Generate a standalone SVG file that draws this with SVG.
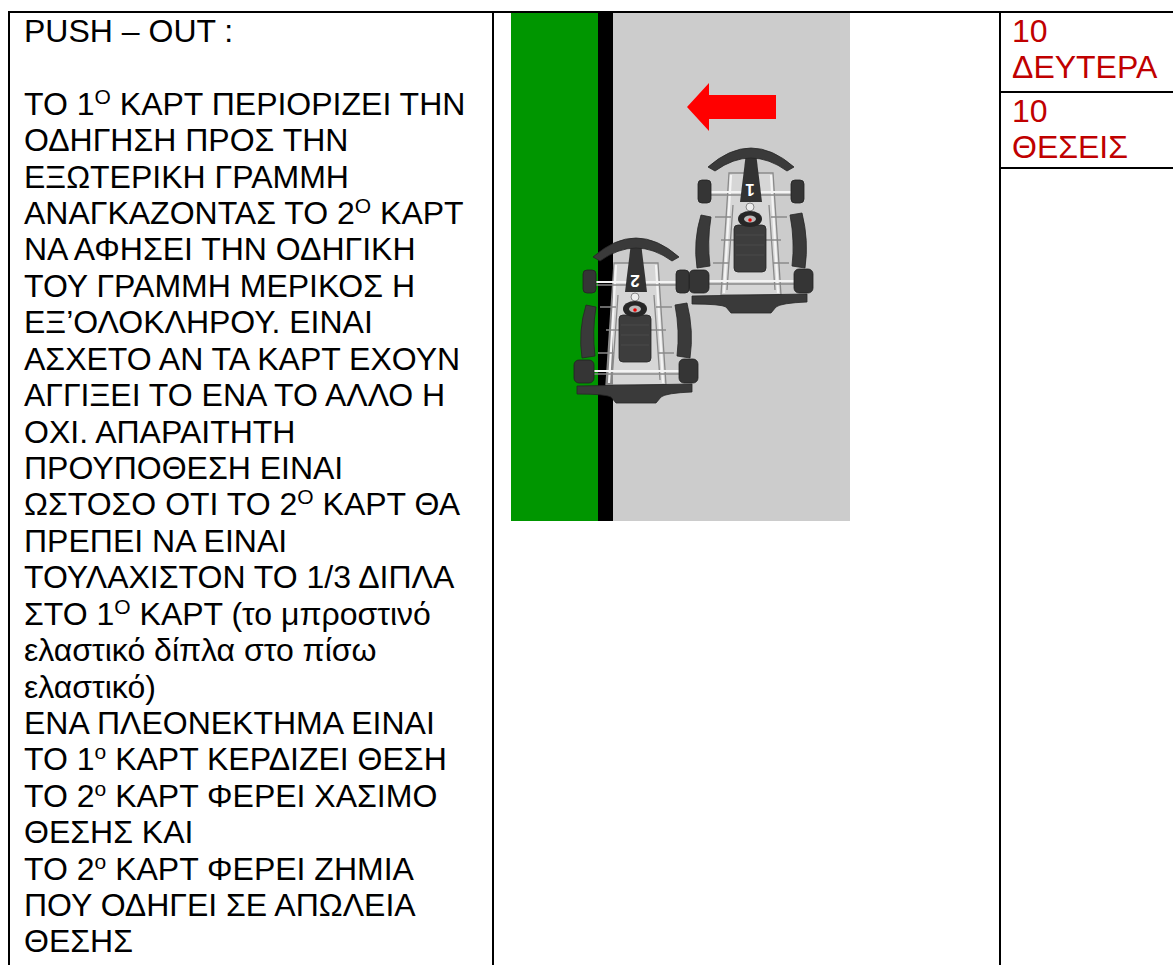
<svg xmlns="http://www.w3.org/2000/svg" width="1173" height="965" viewBox="0 0 1173 965">
<style>
.t{font-family:"Liberation Sans",Arial,"DejaVu Sans",sans-serif;font-size:32px;fill:#000}
.r{fill:#C00000}
.sup{font-size:21px}
.grid{stroke:#000;stroke-width:2;fill:none}
.tyre{fill:#353535;stroke:#222;stroke-width:0.8}
.pod{fill:#3a3a3a;stroke:#262626;stroke-width:0.8}
.frame{fill:none;stroke:#8a8a8a;stroke-width:1.3}
.tube{fill:none;stroke:#f4f4f4;stroke-width:2.2}
.num{font-family:"Liberation Sans",Arial,sans-serif;font-size:17px;font-weight:bold;fill:#fff}
</style>
<defs>
<g id="kart">
  <path d="M -22 28 L 22 28 L 30 150 L -30 150 Z" fill="#dcdcdc" fill-opacity="0.6" stroke="#8a8a8a" stroke-width="1.3"/>
  <path class="tube" d="M -20 30 L -27 148 M 20 30 L 27 148"/>
  <path class="frame" d="M -18 60 L -24 145 M 18 60 L 24 145 M -30 95 L 30 95"/>
  <line class="tube" x1="-40" y1="47" x2="40" y2="47"/>
  <line class="frame" x1="-40" y1="50" x2="40" y2="50"/>
  <line class="tube" x1="-42" y1="136" x2="44" y2="136"/>
  <line class="frame" x1="-42" y1="139" x2="44" y2="139"/>
  <path class="frame" d="M -36 72 L -20 72 M 20 72 L 36 72 M -38 118 L -22 118 M 22 118 L 38 118"/>
  <rect class="tyre" x="-53" y="35" width="13" height="23" rx="4"/>
  <rect class="tyre" x="40" y="35" width="13" height="23" rx="4"/>
  <rect class="tyre" x="-62" y="125" width="20" height="23" rx="5"/>
  <rect class="tyre" x="43" y="124" width="19" height="24" rx="5"/>
  <path class="pod" d="M -50 70 Q -58 96 -54 123 L -41 121 Q -44 96 -40 72 Z"/>
  <path class="pod" d="M 39 70 Q 44 96 41 121 L 54 123 Q 58 96 51 68 Z"/>
  <rect x="-17" y="80" width="32" height="47" rx="4" fill="#3d3d3d" stroke="#262626" stroke-width="0.8"/>
  <path d="M -15 90 L 13 90 M -15 100 L 13 100 M -15 110 L 13 110" stroke="#4a4a4a" stroke-width="1"/>
  <path d="M -5 8 L 5 8 L 11 57 L -11 57 Z" fill="#333"/>
  <path d="M -43 22 Q 0 -16 43 22 L 36 26 Q 0 0 -36 26 Z" fill="#3a3a3a" stroke="#262626" stroke-width="0.8"/>
  <circle cx="-1" cy="62" r="4" fill="#eee" stroke="#888" stroke-width="1"/>
  <ellipse cx="-1" cy="74" rx="12" ry="8" fill="#262626"/>
  <ellipse cx="-1" cy="74" rx="6" ry="3.5" fill="#bbb"/>
  <circle cx="-1" cy="75" r="1.8" fill="#e00"/>
  <path d="M -59 151 L 56 149 L 56 157 Q 30 158 25 162 L 20 168 L -20 168 L -25 162 Q -30 159 -59 159 Z" fill="#3a3a3a" stroke="#262626" stroke-width="0.8"/>
</g>
</defs>

<g id="table">
  <line class="grid" x1="8" y1="12" x2="1173" y2="12"/>
  <line class="grid" x1="9" y1="11" x2="9" y2="965"/>
  <line class="grid" x1="493" y1="11" x2="493" y2="965"/>
  <line class="grid" x1="1000" y1="11" x2="1000" y2="965"/>
  <line class="grid" x1="1000" y1="92" x2="1173" y2="92"/>
  <line class="grid" x1="1000" y1="168" x2="1173" y2="168"/>
</g>

<g id="picture">
  <rect x="511" y="13" width="87" height="508" fill="#009600"/>
  <rect x="598" y="13" width="15" height="508" fill="#000"/>
  <rect x="613" y="13" width="237" height="508" fill="#cccccc"/>
  <polygon points="687,107 709,83 709,95 776,95 776,119 709,119 709,131" fill="#ff0000"/>
  <g id="kart1">
    <use href="#kart" transform="translate(751 145)"/>
    <text class="num" text-anchor="middle" transform="translate(750 190) rotate(180)" x="0" y="6">1</text>
  </g>
  <g id="kart2">
    <use href="#kart" transform="translate(636 235)"/>
    <text class="num" text-anchor="middle" transform="translate(635 281) rotate(180)" x="0" y="6">2</text>
  </g>
</g>

<g id="left-cell">
  <text class="t" x="24" y="42">PUSH – OUT :</text>
  <text class="t" x="24" y="114.8">ΤΟ 1<tspan class="sup" dy="-11">Ο</tspan><tspan dy="11"> ΚΑΡΤ ΠΕΡΙΟΡΙΖΕΙ ΤΗΝ</tspan></text>
  <text class="t" x="24" y="151.2">ΟΔΗΓΗΣΗ ΠΡΟΣ ΤΗΝ</text>
  <text class="t" x="24" y="187.6">ΕΞΩΤΕΡΙΚΗ ΓΡΑΜΜΗ</text>
  <text class="t" x="24" y="224.0">ΑΝΑΓΚΑΖΟΝΤΑΣ ΤΟ 2<tspan class="sup" dy="-11">Ο</tspan><tspan dy="11"> ΚΑΡΤ</tspan></text>
  <text class="t" x="24" y="260.4">ΝΑ ΑΦΗΣΕΙ ΤΗΝ ΟΔΗΓΙΚΗ</text>
  <text class="t" x="24" y="296.8">ΤΟΥ ΓΡΑΜΜΗ ΜΕΡΙΚΟΣ Η</text>
  <text class="t" x="24" y="333.3">ΕΞ’ΟΛΟΚΛΗΡΟΥ. ΕΙΝΑΙ</text>
  <text class="t" x="24" y="369.7">ΑΣΧΕΤΟ ΑΝ ΤΑ ΚΑΡΤ ΕΧΟΥΝ</text>
  <text class="t" x="24" y="406.1">ΑΓΓΙΞΕΙ ΤΟ ΕΝΑ ΤΟ ΑΛΛΟ Η</text>
  <text class="t" x="24" y="442.5">ΟΧΙ. ΑΠΑΡΑΙΤΗΤΗ</text>
  <text class="t" x="24" y="478.9">ΠΡΟΥΠΟΘΕΣΗ ΕΙΝΑΙ</text>
  <text class="t" x="24" y="515.4">ΩΣΤΟΣΟ ΟΤΙ ΤΟ 2<tspan class="sup" dy="-11">Ο</tspan><tspan dy="11"> ΚΑΡΤ ΘΑ</tspan></text>
  <text class="t" x="24" y="551.8">ΠΡΕΠΕΙ ΝΑ ΕΙΝΑΙ</text>
  <text class="t" x="24" y="588.2">ΤΟΥΛΑΧΙΣΤΟΝ ΤΟ 1/3 ΔΙΠΛΑ</text>
  <text class="t" x="24" y="624.6">ΣΤΟ 1<tspan class="sup" dy="-11">Ο</tspan><tspan dy="11"> ΚΑΡΤ (το μπροστινό</tspan></text>
  <text class="t" x="24" y="661.0">ελαστικό δίπλα στο πίσω</text>
  <text class="t" x="24" y="697.5">ελαστικό)</text>
  <text class="t" x="24" y="733.9">ΕΝΑ ΠΛΕΟΝΕΚΤΗΜΑ ΕΙΝΑΙ</text>
  <text class="t" x="24" y="770.3">ΤΟ 1<tspan class="sup" dy="-11">ο</tspan><tspan dy="11"> ΚΑΡΤ ΚΕΡΔΙΖΕΙ ΘΕΣΗ</tspan></text>
  <text class="t" x="24" y="806.7">ΤΟ 2<tspan class="sup" dy="-11">ο</tspan><tspan dy="11"> ΚΑΡΤ ΦΕΡΕΙ ΧΑΣΙΜΟ</tspan></text>
  <text class="t" x="24" y="843.1">ΘΕΣΗΣ ΚΑΙ</text>
  <text class="t" x="24" y="879.6">ΤΟ 2<tspan class="sup" dy="-11">ο</tspan><tspan dy="11"> ΚΑΡΤ ΦΕΡΕΙ ΖΗΜΙΑ</tspan></text>
  <text class="t" x="24" y="916.0">ΠΟΥ ΟΔΗΓΕΙ ΣΕ ΑΠΩΛΕΙΑ</text>
  <text class="t" x="24" y="952.4">ΘΕΣΗΣ</text>
</g>

<g id="right-cells">
  <g id="cell-time">
    <text class="t r" x="1012" y="42">10</text>
    <text class="t r" x="1012" y="78.4">ΔΕΥΤΕΡΑ</text>
  </g>
  <g id="cell-positions">
    <text class="t r" x="1012" y="122">10</text>
    <text class="t r" x="1012" y="158.4">ΘΕΣΕΙΣ</text>
  </g>
</g>
</svg>
